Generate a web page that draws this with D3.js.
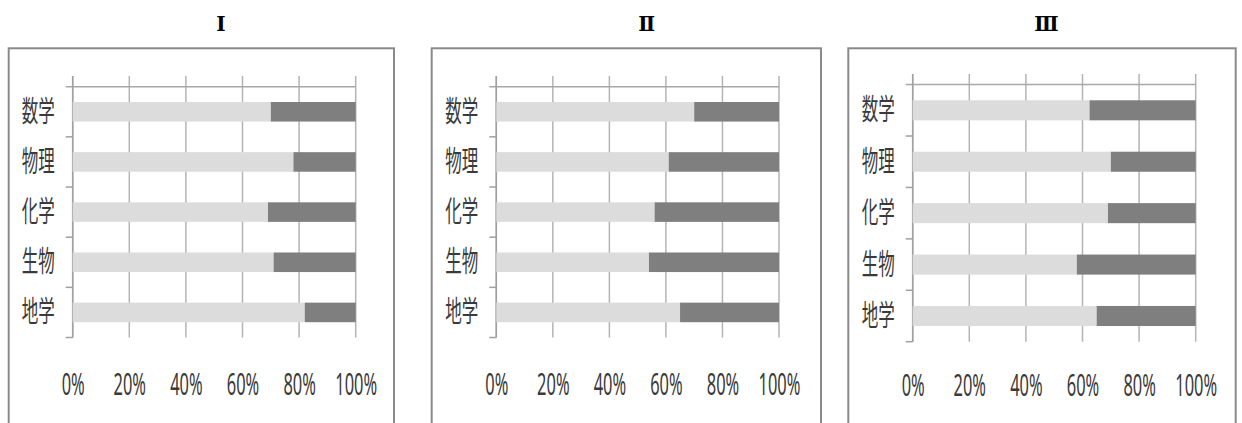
<!DOCTYPE html>
<html>
<head>
<meta charset="utf-8">
<script src="https://cdn.jsdelivr.net/npm/d3@7/dist/d3.min.js"></script>
<style>
  html, body { margin: 0; padding: 0; background: #ffffff; }
  svg { display: block; }
</style>
</head>
<body>
<div id="chart"></div>
<script>
// ---- data ----
const categories = ["数学", "物理", "化学", "生物", "地学"];
const panelTitles = ["Ⅰ", "Ⅱ", "Ⅲ"];
const tickValues = [0, 20, 40, 60, 80, 100];
const tickLabels = ["0%", "20%", "40%", "60%", "80%", "100%"];

const lightI   = [70, 78, 69, 71, 82];
const darkI    = [30, 22, 31, 29, 18];
const lightII  = [70, 61, 56, 54, 65];
const darkII   = [30, 39, 44, 46, 35];
const lightIII = [62.5, 70, 69, 58, 65];
const darkIII  = [37.5, 30, 31, 42, 35];

const seriesByPanel = [
  [lightI, darkI],
  [lightII, darkII],
  [lightIII, darkIII]
];
const seriesColors = ["#dcdcdc", "#7f7f7f"];

// ---- layout ----
const W = 1242, H = 423;
const layouts = [
  { frameL: 8.7,   frameR: 394,    x0: 72.7,  x1: 355.7,  yTop: 86.7, yBot: 337.5, gridTop: 76, titleX: 221 },
  { frameL: 431.7, frameR: 821,    x0: 496.3, x1: 779,    yTop: 86.7, yBot: 337.5, gridTop: 76, titleX: 646.7 },
  { frameL: 848.3, frameR: 1235.7, x0: 912.7, x1: 1195.7, yTop: 84.6, yBot: 341.7, gridTop: 74, titleX: 1046.5 }
];

const svg = d3.select("#chart").append("svg")
  .attr("width", W).attr("height", H);

const textColor = "#3a3a3a";

layouts.forEach((L, pi) => {
  const g = svg.append("g");

  // title
  g.append("text")
    .attr("x", L.titleX).attr("y", 30.5)
    .attr("text-anchor", "middle")
    .attr("font-family", "'Liberation Serif', 'DejaVu Serif', serif")
    .attr("font-weight", "bold")
    .attr("font-size", 20)
    .attr("fill", "#000")
    .text(panelTitles[pi]);

  // frame
  g.append("rect")
    .attr("x", L.frameL).attr("y", 48.3)
    .attr("width", L.frameR - L.frameL).attr("height", 420)
    .attr("fill", "none").attr("stroke", "#8a8a8a").attr("stroke-width", 2);

  const x = d3.scaleLinear().domain([0, 100]).range([L.x0, L.x1]);
  const y = d3.scaleBand().domain(categories).range([L.yTop, L.yBot]).paddingInner(0.6).paddingOuter(0.3);
  const yOuter = d3.scaleBand().domain(categories).range([L.yTop, L.yBot]);

  // vertical gridlines
  g.append("g").selectAll("line").data(tickValues).join("line")
    .attr("x1", d => x(d)).attr("x2", d => x(d))
    .attr("y1", L.gridTop).attr("y2", L.yBot)
    .attr("stroke", "#b4b4b4").attr("stroke-width", 1.5);

  // top horizontal line
  g.append("line")
    .attr("x1", L.x0 - 7).attr("x2", L.x1)
    .attr("y1", L.yTop).attr("y2", L.yTop)
    .attr("stroke", "#a8a8a8").attr("stroke-width", 1.5);

  // left category axis line with ticks at band boundaries
  g.append("line")
    .attr("x1", L.x0).attr("x2", L.x0)
    .attr("y1", L.gridTop).attr("y2", L.yBot)
    .attr("stroke", "#a0a0a0").attr("stroke-width", 1.5);
  const boundaries = categories.slice(1).map(c => yOuter(c)).concat([L.yBot]);
  g.append("g").selectAll("line").data(boundaries).join("line")
    .attr("x1", L.x0 - 7).attr("x2", L.x0)
    .attr("y1", d => d).attr("y2", d => d)
    .attr("stroke", "#a0a0a0").attr("stroke-width", 1.5);

  // stacked bars
  const [light, dark] = seriesByPanel[pi];
  const rows = categories.map((c, i) => ({ cat: c, light: light[i], dark: dark[i] }));
  const stack = d3.stack().keys(["light", "dark"]);
  const stacked = stack(rows);
  const barH = yOuter.bandwidth() * 0.39;
  stacked.forEach((layer, li) => {
    g.append("g").selectAll("rect").data(layer).join("rect")
      .attr("x", d => x(d[0]))
      .attr("width", d => x(d[1]) - x(d[0]))
      .attr("y", d => yOuter(d.data.cat) + (yOuter.bandwidth() - barH) / 2)
      .attr("height", barH)
      .attr("fill", seriesColors[li]);
  });

  // category labels (condensed)
  g.append("g").selectAll("text").data(categories).join("text")
    .attr("transform", d => `translate(${L.x0 - 18},${yOuter(d) + yOuter.bandwidth() / 2 + 10}) scale(0.57,1)`)
    .attr("text-anchor", "end")
    .attr("font-family", "'Noto Sans CJK JP', sans-serif")
    .attr("font-size", 29)
    .attr("fill", textColor)
    .text(d => d);

  // x axis labels
  const axis = d3.axisBottom(x).tickValues(tickValues)
    .tickFormat((d, i) => tickLabels[i]).tickSize(0).tickPadding(0);
  const ax = g.append("g").attr("transform", `translate(0,${pi === 2 ? 396 : 395})`).call(axis);
  ax.select(".domain").remove();
  ax.selectAll("text")
    .attr("dy", 0).attr("y", 0)
    .attr("transform", "scale(0.53,1)")
    .attr("font-family", "'Noto Sans', 'Noto Sans CJK JP', sans-serif")
    .attr("font-size", 31)
    .attr("fill", textColor);
});
</script>
</body>
</html>
